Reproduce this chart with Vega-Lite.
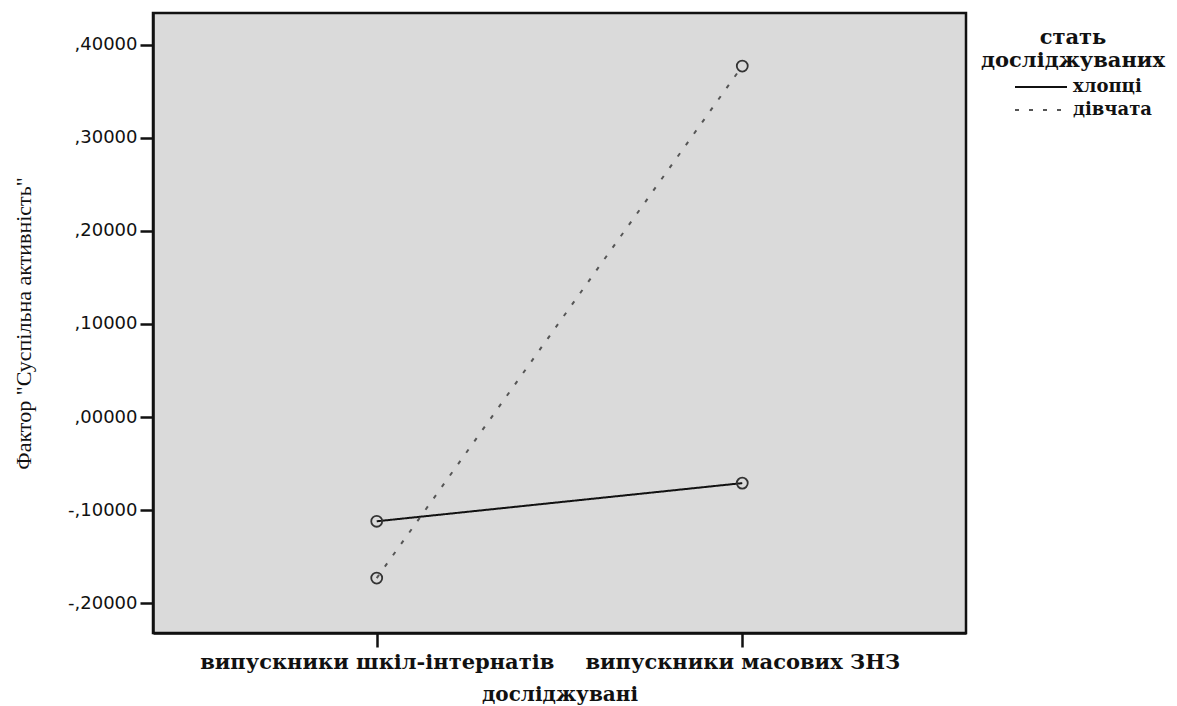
{
  "$schema": "https://vega.github.io/schema/vega-lite/v6.json",
  "width": 813,
  "height": 620,
  "autosize": "none",
  "padding": {"left": 153, "top": 13, "right": 211, "bottom": 73},
  "background": "white",
  "config": {
    "view": {"fill": "#dadada", "stroke": "#111111", "strokeWidth": 2.5}
  },
  "data": {
    "values": [
      {"group": "випускники шкіл-інтернатів", "sex": "хлопці", "value": -0.112},
      {"group": "випускники масових ЗНЗ", "sex": "хлопці", "value": -0.071},
      {"group": "випускники шкіл-інтернатів", "sex": "дівчата", "value": -0.173},
      {"group": "випускники масових ЗНЗ", "sex": "дівчата", "value": 0.377}
    ]
  },
  "encoding": {
    "x": {
      "field": "group",
      "type": "nominal",
      "sort": ["випускники шкіл-інтернатів", "випускники масових ЗНЗ"],
      "scale": {"type": "point", "padding": 0.612},
      "axis": {
        "title": "досліджувані",
        "titleFont": "DejaVu Serif",
        "titleFontSize": 20,
        "titleFontWeight": "bold",
        "titleColor": "#111111",
        "titlePadding": 12,
        "labelFont": "DejaVu Serif",
        "labelFontSize": 21,
        "labelFontWeight": "bold",
        "labelColor": "#111111",
        "labelAngle": 0,
        "labelLimit": 0,
        "labelPadding": 4,
        "tickSize": 14,
        "tickWidth": 2.5,
        "tickColor": "#111111",
        "domainColor": "#111111",
        "domainWidth": 2.5,
        "grid": false
      }
    },
    "y": {
      "field": "value",
      "type": "quantitative",
      "scale": {"domain": [-0.232, 0.434], "nice": false, "zero": false},
      "axis": {
        "title": "Фактор \"Суспільна активність\"",
        "titleFont": "Liberation Serif",
        "titleFontSize": 22,
        "titleFontWeight": "normal",
        "titleColor": "#111111",
        "titlePadding": 32,
        "values": [-0.2, -0.1, 0, 0.1, 0.2, 0.3, 0.4],
        "labelExpr": "replace(replace(format(datum.value, '.5f'), '0.', ','), '\u2212', '-')",
        "labelFont": "DejaVu Sans",
        "labelFontSize": 18,
        "labelColor": "#111111",
        "labelPadding": 3,
        "tickSize": 13,
        "tickWidth": 2.5,
        "tickColor": "#111111",
        "domainColor": "#111111",
        "domainWidth": 2.5,
        "grid": false
      }
    }
  },
  "layer": [
    {
      "mark": {"type": "line", "strokeWidth": 2},
      "encoding": {
        "color": {
          "field": "sex",
          "type": "nominal",
          "scale": {"domain": ["хлопці", "дівчата"], "range": ["#111111", "#555555"]},
          "legend": {
            "title": ["стать", "досліджуваних"],
            "orient": "none",
            "legendX": 828,
            "legendY": 14,
            "titleFont": "DejaVu Serif",
            "titleFontSize": 21,
            "titleFontWeight": "bold",
            "titleColor": "#111111",
            "titleAlign": "center",
            "titleAnchor": "middle",
            "titleLineHeight": 23,
            "titleLimit": 0,
            "titlePadding": 5,
            "labelFont": "DejaVu Serif",
            "labelFontSize": 18,
            "labelFontWeight": "bold",
            "labelColor": "#111111",
            "labelOffset": 21,
            "symbolType": "M-2.6,0H2.6",
            "symbolSize": 400,
            "symbolStrokeWidth": 2,
            "symbolOffset": 35,
            "rowPadding": 3
          }
        },
        "strokeDash": {
          "field": "sex",
          "type": "nominal",
          "scale": {"domain": ["хлопці", "дівчата"], "range": [[1, 0], [4, 10]]},
          "legend": {
            "title": ["стать", "досліджуваних"],
            "orient": "none",
            "legendX": 828,
            "legendY": 14,
            "titleFont": "DejaVu Serif",
            "titleFontSize": 21,
            "titleFontWeight": "bold",
            "titleColor": "#111111",
            "titleAlign": "center",
            "titleAnchor": "middle",
            "titleLineHeight": 23,
            "titleLimit": 0,
            "titlePadding": 5,
            "labelFont": "DejaVu Serif",
            "labelFontSize": 18,
            "labelFontWeight": "bold",
            "labelColor": "#111111",
            "labelOffset": 21,
            "symbolType": "M-2.6,0H2.6",
            "symbolSize": 400,
            "symbolStrokeWidth": 2,
            "symbolOffset": 35,
            "rowPadding": 3
          }
        }
      }
    },
    {
      "mark": {"type": "point", "filled": false, "shape": "circle", "size": 120, "stroke": "#333333", "strokeWidth": 1.8, "opacity": 1}
    }
  ]
}
